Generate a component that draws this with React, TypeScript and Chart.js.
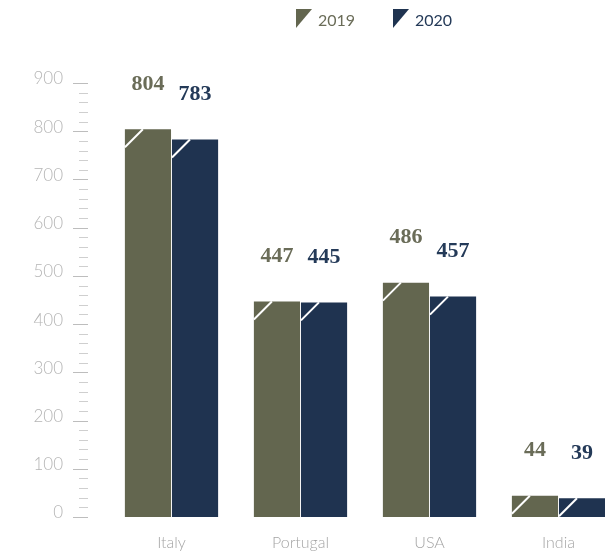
import React, { useEffect, useRef } from "react";
import { Chart, registerables } from "chart.js";

Chart.register(...registerables);

const categories = ["Italy", "Portugal", "USA", "India"];
const values2019 = [804, 447, 486, 44];
const values2020 = [783, 445, 457, 39];
const seriesNames = ["2019", "2020"];
const yTicks = [0, 100, 200, 300, 400, 500, 600, 700, 800, 900];

const C2019 = "#63664f";
const C2020 = "#1f3350";
const L2019 = "#6a6c58";
const L2020 = "#243a58";

const W = 625;
const H = 553;

const drawPlugin = {
  id: "custom",
  afterDatasetsDraw(chart: any) {
    const ctx = chart.ctx;
    const y = chart.scales.y;
    const x = chart.scales.x;
    ctx.save();
    // diagonal white notch
    chart.data.datasets.forEach((ds: any, di: number) => {
      const meta = chart.getDatasetMeta(di);
      meta.data.forEach((bar: any) => {
        const left = bar.x - bar.width / 2;
        const top = bar.y;
        const h = bar.base - bar.y;
        const d = Math.min(18, h);
        ctx.strokeStyle = "#ffffff";
        ctx.lineWidth = 2;
        ctx.beginPath();
        ctx.moveTo(left, top + d);
        ctx.lineTo(left + d, top);
        ctx.stroke();
      });
    });
    // value labels
    ctx.font = "bold 22px 'Liberation Serif', 'DejaVu Serif', serif";
    ctx.textAlign = "center";
    ctx.textBaseline = "middle";
    chart.data.datasets.forEach((ds: any, di: number) => {
      const meta = chart.getDatasetMeta(di);
      ctx.fillStyle = di === 0 ? L2019 : L2020;
      meta.data.forEach((bar: any, i: number) => {
        ctx.fillText(String(ds.data[i]), bar.x, bar.y - 45);
      });
    });
    // y axis ticks
    for (let v = 0; v <= 900; v += 20) {
      const py = Math.round(y.getPixelForValue(v)) + 0.5;
      const major = v % 100 === 0;
      ctx.strokeStyle = major ? "#bdbdbd" : "#cfcfcf";
      ctx.lineWidth = 1;
      ctx.beginPath();
      ctx.moveTo(major ? 73 : 79, py);
      ctx.lineTo(88, py);
      ctx.stroke();
    }
    ctx.font = "300 17px Lato, 'Open Sans', sans-serif";
    ctx.textAlign = "right";
    ctx.textBaseline = "middle";
    ctx.fillStyle = "#b5b5b5";
    yTicks.forEach((v) => {
      const py = y.getPixelForValue(v);
      ctx.fillText(String(v), 63, py - 4);
    });
    // x labels
    ctx.font = "300 16px Lato, 'Open Sans', sans-serif";
    ctx.textAlign = "center";
    ctx.fillStyle = "#a5a5a5";
    categories.forEach((c, i) => {
      ctx.fillText(c, x.getPixelForValue(i), 543);
    });
    // legend
    const items = [
      { name: seriesNames[0], color: C2019, text: L2019, x: 296 },
      { name: seriesNames[1], color: C2020, text: L2020, x: 393 },
    ];
    ctx.font = "16px Lato, 'Open Sans', sans-serif";
    ctx.textAlign = "left";
    items.forEach((it) => {
      ctx.fillStyle = it.color;
      ctx.beginPath();
      ctx.moveTo(it.x, 9);
      ctx.lineTo(it.x + 16, 9);
      ctx.lineTo(it.x, 28);
      ctx.closePath();
      ctx.fill();
      ctx.fillStyle = it.text;
      ctx.fillText(it.name, it.x + 22, 21);
    });
    ctx.restore();
  },
};

export default function App() {
  const ref = useRef<HTMLCanvasElement>(null);
  useEffect(() => {
    if (!ref.current) return;
    const chart = new Chart(ref.current, {
      type: "bar",
      data: {
        labels: categories,
        datasets: [
          { label: seriesNames[0], data: values2019, backgroundColor: C2019, borderWidth: 0, barPercentage: 0.98, categoryPercentage: 0.73 },
          { label: seriesNames[1], data: values2020, backgroundColor: C2020, borderWidth: 0, barPercentage: 0.98, categoryPercentage: 0.73 },
        ],
      },
      options: {
        responsive: false,
        animation: false,
        layout: { padding: { left: 107, right: W - 623, top: 83, bottom: H - 517 } },
        plugins: { legend: { display: false }, tooltip: { enabled: false } },
        scales: {
          x: { display: false },
          y: { display: false, min: 0, max: 900 },
        },
      },
      plugins: [drawPlugin],
    });
    return () => chart.destroy();
  }, []);
  return (
    <div style={{ position: "fixed", left: 0, top: 0, width: 605, height: 553, overflow: "hidden", background: "#fff" }}>
      <canvas ref={ref} width={W} height={H} style={{ width: W, height: H, display: "block" }} />
    </div>
  );
}
